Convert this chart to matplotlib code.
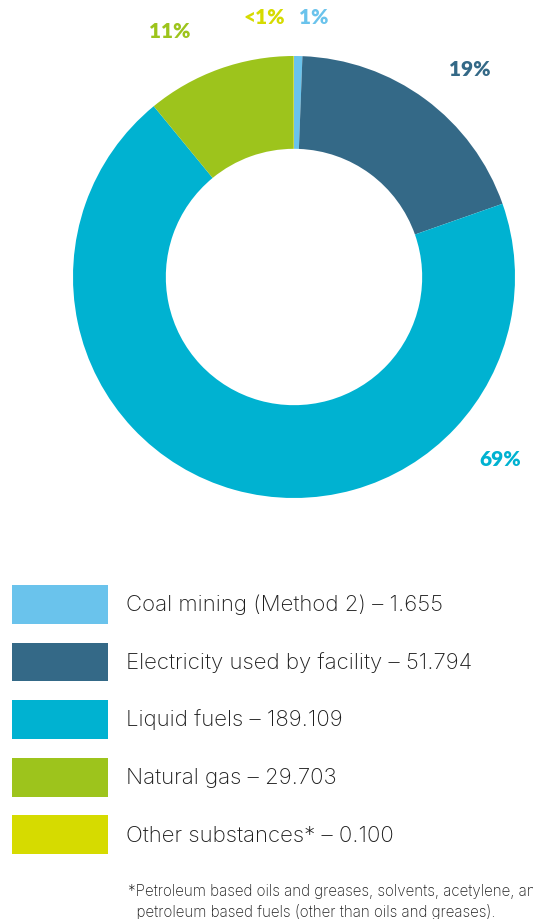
import matplotlib
matplotlib.use("Agg")
import matplotlib.pyplot as plt
from matplotlib.patches import Patch

categories = ["Coal mining (Method 2)", "Electricity used by facility", "Liquid fuels",
              "Natural gas", "Other substances*"]
values = [1.655, 51.794, 189.109, 29.703, 0.100]
value_labels = ["1.655", "51.794", "189.109", "29.703", "0.100"]
pct_labels = ["1%", "19%", "69%", "11%", "<1%"]
colors = ["#6AC3EC", "#346987", "#00B2D1", "#9DC41C", "#D6DB00"]
footnote = ("*Petroleum based oils and greases, solvents, acetylene, and other\n"
            "  petroleum based fuels (other than oils and greases).")

W, H = 533, 919
fig = plt.figure(figsize=(W / 100, H / 100), dpi=100)
fig.patch.set_facecolor("white")

cx, cy, R = 294, 277, 221
ax = fig.add_axes([(cx - R) / W, 1 - (cy + R) / H, 2 * R / W, 2 * R / H])
ax.pie(values, colors=colors, startangle=90, counterclock=False, radius=1.0,
       wedgeprops=dict(width=0.42, edgecolor="none"))
ax.set_xlim(-1, 1)
ax.set_ylim(-1, 1)
ax.set_aspect("equal")
ax.axis("off")

# percentage labels (pixel positions of label centers)
label_pos = [(314, 17), (470, 69), (500, 460), (170, 32), (264, 17)]
for (px, py), txt, c in zip(label_pos, pct_labels, colors):
    fig.text(px / W, 1 - py / H, txt, color=c, fontsize=15, fontweight="heavy",
             family="Lato", ha="center", va="center")

# legend
handles = [Patch(facecolor=c, edgecolor="none") for c in colors]
labels = [f"{cat} \u2013 {v}" for cat, v in zip(categories, value_labels)]
fs = 16
pxpt = fs * 100 / 72
leg = fig.legend(handles, labels, loc="upper left",
                 bbox_to_anchor=(12 / W, 1 - 585 / H), frameon=False,
                 handlelength=96 / pxpt,
                 handleheight=2.65 * 14 / fs,
                 handletextpad=18 / pxpt,
                 labelspacing=18.6 / pxpt, borderpad=0, borderaxespad=0,
                 prop=dict(family="Inter", weight="light", size=fs))
for t in leg.get_texts():
    t.set_color("#1e1e1e")

fig.text(128 / W, 1 - 902 / H, footnote, fontsize=10.9, family="Inter",
         weight="light", color="#1e1e1e", ha="left", va="center", linespacing=1.4)

fig.savefig("out.png", dpi=100)
